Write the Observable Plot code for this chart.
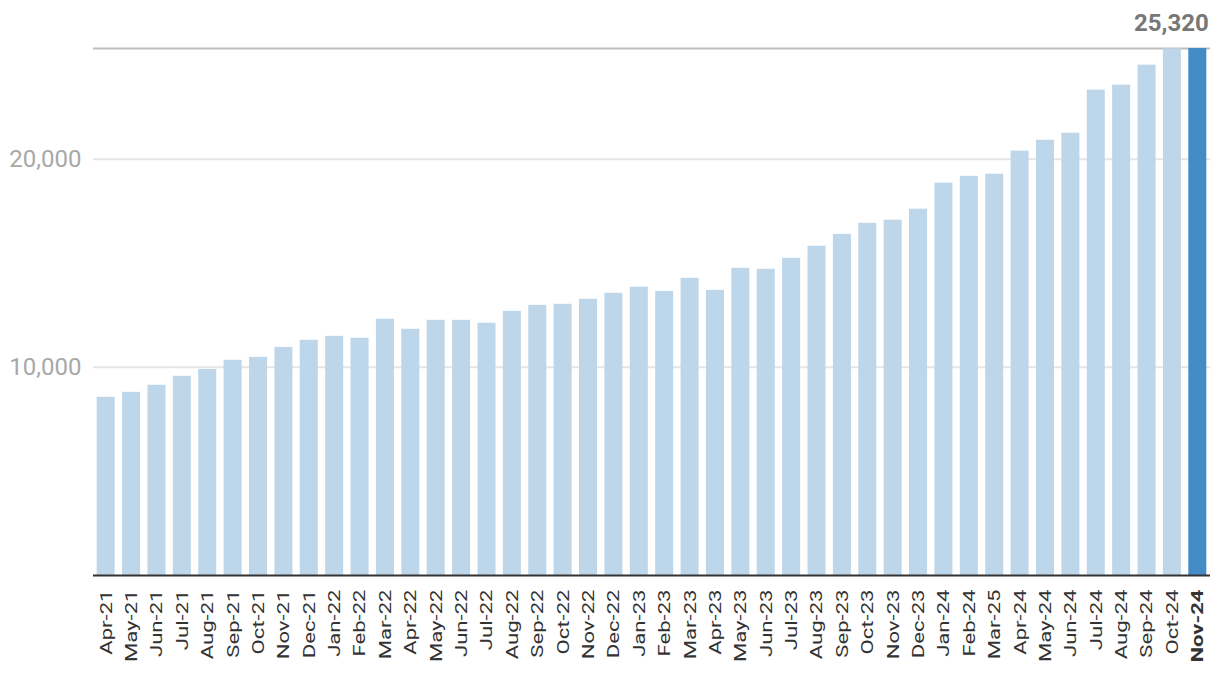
<!DOCTYPE html>
<html>
<head>
<meta charset="utf-8">
<script src="https://cdn.jsdelivr.net/npm/d3@7"></script>
<script src="https://cdn.jsdelivr.net/npm/@observablehq/plot@0.6"></script>
<style>
  html, body { margin: 0; padding: 0; background: #fff; }
  #chart { width: 1220px; height: 686px; }
</style>
</head>
<body>
<div id="chart"></div>
<script>
const months = ["Apr-21","May-21","Jun-21","Jul-21","Aug-21","Sep-21","Oct-21","Nov-21","Dec-21",
  "Jan-22","Feb-22","Mar-22","Apr-22","May-22","Jun-22","Jul-22","Aug-22","Sep-22","Oct-22","Nov-22","Dec-22",
  "Jan-23","Feb-23","Mar-23","Apr-23","May-23","Jun-23","Jul-23","Aug-23","Sep-23","Oct-23","Nov-23","Dec-23",
  "Jan-24","Feb-24","Mar-25","Apr-24","May-24","Jun-24","Jul-24","Aug-24","Sep-24","Oct-24","Nov-24"];
const values = [8560, 8800, 9140, 9570, 9900, 10340, 10480, 10960, 11300,
  11490, 11400, 12310, 11830, 12260, 12260, 12120, 12690, 12980, 13030, 13270, 13560,
  13850, 13650, 14280, 13700, 14760, 14710, 15240, 15820, 16390, 16920, 17070, 17600,
  18850, 19180, 19280, 20390, 20910, 21250, 23320, 23560, 24520, 25300, 25320];
const yTicks = [10000, 20000];
const maxValue = 25320;

const data = months.map((m, i) => ({month: m, value: values[i], highlight: i === months.length - 1}));
const last = data[data.length - 1];
const fmt = d3.format(",");

const chart = Plot.plot({
  width: 1220,
  height: 686,
  marginTop: 48,
  marginBottom: 111,
  marginLeft: 93,
  marginRight: 10,
  style: {fontFamily: "Roboto, sans-serif", background: "#fff"},
  x: {domain: months, paddingInner: 0.29, paddingOuter: 0.145, round: false, label: null},
  y: {domain: [0, maxValue], label: null},
  marks: [
    Plot.gridY(yTicks, {stroke: "#e5e5e5", strokeOpacity: 1, strokeWidth: 2}),
    Plot.ruleY([maxValue], {stroke: "#bdbdbd", strokeWidth: 2}),
    Plot.barY(data, {x: "month", y: "value", fill: d => d.highlight ? "#458bc6" : "#bed6ea"}),
    Plot.ruleY([0], {stroke: "#333", strokeWidth: 2}),
    Plot.axisY(yTicks, {tickSize: 0, tickPadding: 12, fontSize: 24, fill: "#a8a8a8", tickFormat: fmt, label: null}),
    Plot.axisX(months.slice(0, -1), {tickSize: 0, tickPadding: 14, tickRotate: -90, fontSize: 17, fill: "#333", label: null}),
    Plot.axisX([last.month], {tickSize: 0, tickPadding: 14, tickRotate: -90, fontSize: 17, fontWeight: "bold", fill: "#333", label: null}),
    Plot.text([last], {x: "month", y: "value", text: d => fmt(d.value), textAnchor: "end", dx: 11, dy: -25,
      fontSize: 24, fontWeight: "bold", fill: "#777"})
  ]
});
// stretch the rotated month labels along their reading direction, as in the reference
d3.select(chart).selectAll("g[aria-label='x-axis tick label'] text").each(function() {
  const t = this.getAttribute("transform") || "";
  this.setAttribute("transform", t + " scale(1.3,1)");
});
document.getElementById("chart").appendChild(chart);
</script>
</body>
</html>
